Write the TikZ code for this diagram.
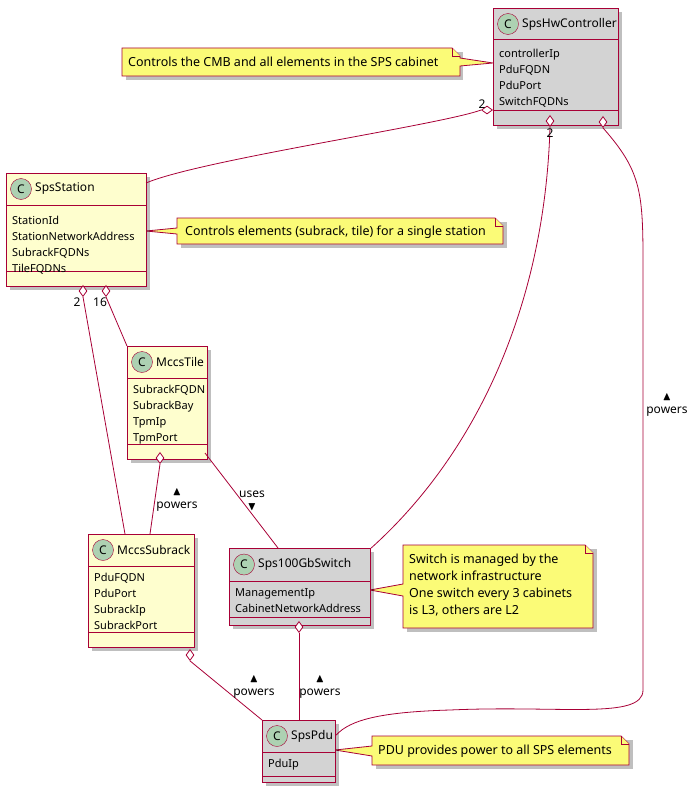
\documentclass[tikz,border=0pt]{standalone}
\usepackage{amssymb}
\usepackage{fontspec}
\setmainfont{Noto Sans}
\usetikzlibrary{shapes.geometric,calc}
\begin{document}
\definecolor{bord}{HTML}{A80036}
\definecolor{cfill}{HTML}{FEFECE}
\definecolor{gfill}{HTML}{D3D3D3}
\definecolor{nfill}{HTML}{FBFB77}
\definecolor{circ}{HTML}{ADD1B2}
\newcommand\umlcls[9]{%
 \fill[black,opacity=0.25] (#2+4,#3+4) rectangle ++(#4,#5+#6+#7);
 \node[draw=bord,line width=1.2pt,fill=#8,anchor=north west,minimum width=#4pt,minimum height=#5pt+#6pt+#7pt,inner sep=0pt] (#1) at (#2,#3) {};
 \draw[bord,line width=1pt] (#2,#3+#5) -- ++(#4,0) (#2,#3+#5+#6) -- ++(#4,0);
 \node[circle,draw=bord,fill=circ,minimum size=21pt,inner sep=0pt,font=\bfseries\large] at (#2+15,#3+#5/2) {C};
 \node[anchor=west,font=\fontsize{12}{13}\selectfont,inner sep=0pt] at (#2+29,#3+#5/2) {#9};
}
\newcommand\attrs[3]{\node[anchor=north west,align=left,font=\fontsize{11}{16}\selectfont,inner sep=0pt] at (#1,#2+4) {#3};}
\begin{tikzpicture}[x=1pt,y=-1pt,
  conn/.style={bord,line width=0.8pt},
  dia/.style={draw=bord,fill=white,line width=0.8pt,diamond,inner sep=0pt,minimum width=8pt,minimum height=11pt},
  lab/.style={font=\fontsize{12}{13}\selectfont,inner sep=1pt},
  note/.style={draw=bord,fill=nfill,line width=0.8pt},
  ntext/.style={font=\fontsize{12.5}{17}\selectfont,align=left,anchor=north west,inner sep=0pt}]
\useasboundingbox (0,0) rectangle (699,792);

% notes
\fill[black,opacity=0.25] (126,52) -- (463,52) -- (463,80) -- (126,80) -- cycle;
\draw[note] (122,48) -- (452,48) -- (460,56) -- (460,58) -- (493,63) -- (460,66) -- (460,76) -- (122,76) -- cycle;
\draw[note] (452,48) -- (452,56) -- (460,56);
\node[ntext,anchor=west] (n1) at (128,62) {Controls the CMB and all elements in the SPS cabinet};

\fill[black,opacity=0.25] (181,222) rectangle (507,248);
\draw[note] (177,218) -- (495,218) -- (503,226) -- (503,244) -- (177,244) -- (177,234) -- (146,231) -- (177,228) -- cycle;
\draw[note] (495,218) -- (495,226) -- (503,226);
\node[ntext,anchor=west] (n2) at (185,232) {Controls elements (subrack, tile) for a single station};

\fill[black,opacity=0.25] (407,549) rectangle (597,632);
\draw[note] (403,545) -- (585,545) -- (593,553) -- (593,628) -- (403,628) -- (403,596) -- (370,590) -- (403,584) -- cycle;
\draw[note] (585,545) -- (585,553) -- (593,553);
\node[ntext] (n3) at (409,554) {Switch is managed by the\\network infrastructure\\One switch every 3 cabinets\\is L3, others are L2};

\fill[black,opacity=0.25] (376,740) rectangle (633,769);
\draw[note] (372,736) -- (621,736) -- (629,744) -- (629,765) -- (372,765) -- (372,756) -- (335,750) -- (372,746) -- cycle;
\draw[note] (621,736) -- (621,744) -- (629,744);
\node[ntext,anchor=west] (n4) at (378,751) {PDU provides power to all SPS elements};

% classes
\umlcls{ctrl}{493}{8}{125}{32}{70}{15}{gfill}{SpsHwController}
\attrs{499}{45}{controllerIp\\PduFQDN\\PduPort\\SwitchFQDNs}
\umlcls{stat}{6}{173}{140}{32}{66}{15}{cfill}{SpsStation}
\attrs{12}{212}{StationId\\StationNetworkAddress\\SubrackFQDNs\\TileFQDNs}
\umlcls{tile}{127}{346}{80}{32}{66}{15}{cfill}{MccsTile}
\attrs{133}{381}{SubrackFQDN\\SubrackBay\\TpmIp\\TpmPort}
\umlcls{sub}{88}{534}{106}{32}{66}{15}{cfill}{MccsSubrack}
\attrs{94}{569}{PduFQDN\\PduPort\\SubrackIp\\SubrackPort}
\umlcls{sw}{229}{548}{141}{33}{36}{8}{gfill}{Sps100GbSwitch}
\attrs{235}{584}{ManagementIp\\CabinetNetworkAddress}
\umlcls{pdu}{262}{720}{73}{32}{24}{6}{gfill}{SpsPdu}
\attrs{268}{755}{PduIp}

% diamonds
\node[dia,minimum width=11pt,minimum height=8pt] (d1) at (487,110) {};
\node[dia] (d2) at (550,121) {};
\node[dia] (d3) at (603,122) {};
\node[dia] (d4) at (83,291) {};
\node[dia] (d5) at (106,291) {};
\node[dia] (d6) at (160,458) {};
\node[dia] (d7) at (299,627) {};
\node[dia] (d8) at (190,655) {};
\coordinate (c1) at (146,183);

% connectors
\draw[conn] (d1.west) .. controls (440,125) and (200,160) .. (c1);
\draw[conn] (d2.south) .. controls (545,300) and (480,450) .. (sw.north east) ;
\draw[conn] (d3.south) .. controls (640,170) and (643,190) .. (643,260) -- (643,690) .. controls (643,720) and (560,705) .. (450,710) .. controls (380,712) and (350,720) .. ($(pdu.north east)+(0,15)$);
\draw[conn] (d4.south) -- (125,534);
\draw[conn] (d5.south) -- (127,346);
\draw[conn] (d6.south) -- (150,534);
\draw[conn] (205,453) -- (278,548);
\draw[conn] (d7.south) -- (pdu.north -| d7);
\draw[conn] (d8.south) -- (pdu.north west);

% labels
\node[lab] at (482,104) {2};
\node[lab] at (550,133) {2};
\node[lab] at (77,302) {2};
\node[lab] at (100,302) {16};
\node[lab,align=center] at (667,405) {$\blacktriangle$\\powers};
\node[lab,align=center] at (177,500) {$\blacktriangle$\\powers};
\node[lab,align=center] at (252,501) {uses\\$\blacktriangledown$};
\node[lab,align=center] at (320,687) {$\blacktriangle$\\powers};
\node[lab,align=center] at (254,687) {$\blacktriangle$\\powers};
\end{tikzpicture}
\end{document}
